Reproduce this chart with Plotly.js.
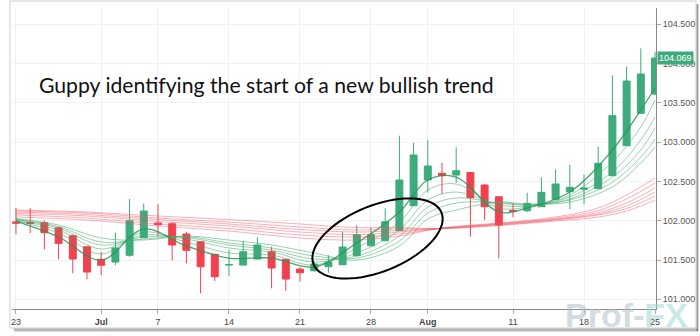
<!DOCTYPE html>
<html><head><meta charset="utf-8">
<script src="https://cdn.plot.ly/plotly-3.0.1.min.js"></script>
<style>html,body{margin:0;padding:0;background:#fff}#chart{width:700px;height:336px}</style>
</head><body><div id="chart"></div>
<script>
// ---- data ----
const dates = ['2014-06-23','2014-06-24','2014-06-25','2014-06-26','2014-06-27','2014-06-30',
 '2014-07-01','2014-07-02','2014-07-03','2014-07-04','2014-07-07','2014-07-08','2014-07-09','2014-07-10','2014-07-11',
 '2014-07-14','2014-07-15','2014-07-16','2014-07-17','2014-07-18','2014-07-21','2014-07-22','2014-07-23','2014-07-24','2014-07-25',
 '2014-07-28','2014-07-29','2014-07-30','2014-07-31','2014-08-01','2014-08-04','2014-08-05','2014-08-06','2014-08-07','2014-08-08',
 '2014-08-11','2014-08-12','2014-08-13','2014-08-14','2014-08-15','2014-08-18','2014-08-19','2014-08-20','2014-08-21','2014-08-22','2014-08-25'];
const open  = [101.985,101.978,101.975,101.911,101.809,101.669,101.509,101.475,101.560,101.784,101.971,101.962,101.831,101.733,101.573,
 101.436,101.436,101.513,101.606,101.509,101.385,101.364,101.415,101.440,101.555,101.682,101.746,101.873,102.191,102.518,
 102.603,102.581,102.613,102.454,102.305,102.132,102.127,102.178,102.272,102.369,102.400,102.407,102.573,102.954,103.366,103.612];
const high  = [102.162,102.162,102.005,101.924,101.820,101.680,101.602,101.847,102.276,102.221,102.209,101.970,101.860,101.740,101.575,
 101.627,101.746,101.789,101.669,101.510,101.407,101.475,101.560,101.860,101.945,101.911,102.158,103.081,102.992,103.027,
 102.738,102.934,102.620,102.470,102.310,102.221,102.356,102.552,102.654,102.712,102.590,102.941,103.850,103.959,104.193,104.150];
const low   = [101.831,101.844,101.636,101.509,101.331,101.254,101.305,101.433,101.540,101.780,101.805,101.496,101.458,101.076,101.233,
 101.296,101.430,101.510,101.140,101.109,101.224,101.350,101.338,101.440,101.550,101.680,101.740,101.870,102.190,102.356,
 102.336,102.483,101.796,102.009,101.522,102.043,102.110,102.175,102.270,102.149,102.212,102.405,102.570,102.950,103.360,103.600];
const close = [101.968,101.966,101.847,101.712,101.513,101.347,101.433,101.653,102.000,102.123,101.949,101.691,101.623,101.415,101.288,
 101.442,101.606,101.691,101.398,101.258,101.338,101.449,101.475,101.665,101.822,101.822,101.987,102.518,102.836,102.696,
 102.573,102.636,102.293,102.178,101.945,102.120,102.221,102.361,102.467,102.425,102.416,102.730,103.336,103.777,103.866,104.069];

// Guppy short-term EMAs (3,5,8,10,12,15) read at sample dates
const shortDates = ['2014-06-23','2014-06-26','2014-07-01','2014-07-04','2014-07-09','2014-07-14','2014-07-17','2014-07-22','2014-07-25',
 '2014-07-30','2014-08-01','2014-08-05','2014-08-08','2014-08-12','2014-08-15','2014-08-20','2014-08-22','2014-08-25'];
const ema3  = [101.996,101.793,101.500,101.894,101.678,101.525,101.525,101.411,101.716,102.111,102.518,102.556,102.111,102.162,102.365,102.900,103.408,103.688];
const ema5  = [102.003,101.844,101.576,101.856,101.729,101.589,101.564,101.436,101.653,101.983,102.391,102.467,102.162,102.174,102.327,102.747,103.192,103.536];
const ema8  = [102.009,101.882,101.640,101.818,101.767,101.653,101.602,101.475,101.589,101.882,102.263,102.365,102.200,102.187,102.302,102.620,103.027,103.319];
const ema10 = [102.015,101.907,101.691,101.793,101.786,101.691,101.627,101.513,101.551,101.805,102.174,102.289,102.225,102.200,102.276,102.556,102.900,103.179];
const ema12 = [102.022,101.926,101.729,101.767,101.799,101.716,101.653,101.551,101.525,101.742,102.098,102.225,102.232,102.206,102.263,102.492,102.810,103.039];
const ema15 = [102.028,101.945,101.780,101.754,101.805,101.754,101.691,101.589,101.500,101.678,102.022,102.136,102.238,102.212,102.238,102.429,102.734,102.938];

// Guppy long-term EMAs (30,35,40,45,50,60) read at sample dates
const longDates = ['2014-06-23','2014-06-30','2014-07-07','2014-07-14','2014-07-21','2014-07-25','2014-07-30','2014-08-04','2014-08-08',
 '2014-08-14','2014-08-19','2014-08-21','2014-08-25'];
const ema30 = [102.047,102.009,101.933,101.869,101.780,101.754,101.805,101.908,101.971,102.047,102.162,102.327,102.543];
const ema35 = [102.073,102.034,101.958,101.901,101.818,101.793,101.831,101.906,101.964,102.034,102.130,102.276,102.480];
const ema40 = [102.092,102.060,101.990,101.933,101.856,101.824,101.856,101.904,101.958,102.022,102.104,102.225,102.416];
const ema45 = [102.111,102.079,102.015,101.958,101.888,101.856,101.875,101.902,101.952,102.015,102.085,102.187,102.365];
const ema50 = [102.123,102.098,102.034,101.983,101.920,101.882,101.894,101.900,101.945,102.009,102.073,102.155,102.314];
const ema60 = [102.136,102.111,102.060,102.015,101.958,101.913,101.913,101.898,101.939,101.996,102.047,102.123,102.263];

const tickDates  = ['2014-06-23','2014-07-01','2014-07-07','2014-07-14','2014-07-21','2014-07-28','2014-08-01','2014-08-11','2014-08-18','2014-08-25'];
const tickLabels = ['23','<b>Jul</b>','7','14','21','28','<b>Aug</b>','11','18','25'];
const titleText = 'Guppy identifying the start of a new bullish trend';
const lastPrice = 104.069;

// ---- layout constants ----
const W = 700, H = 336, M = {l:12, r:44, t:8, b:27};
const xRange = [-0.28, 45.07], yRange = [100.877, 104.706];
const idx = d => dates.indexOf(d);
const X = dates.map((d,i)=>i);

const GREEN = '#3dab7b', RED = '#f2404f';
const traces = [];
const shortSets = [ema15, ema12, ema10, ema8, ema5, ema3];
shortSets.forEach((arr,k)=>{
  traces.push({type:'scatter', mode:'lines', x: shortDates.map(idx), y: arr,
    line:{color: k===5 ? 'rgba(40,150,85,0.85)' : 'rgba(70,170,110,0.55)', width: k===5?1.3:1, shape:'spline', smoothing:1},
    hoverinfo:'skip', showlegend:false});
});
const longSets = [ema60, ema50, ema45, ema40, ema35, ema30];
longSets.forEach((arr,k)=>{
  traces.push({type:'scatter', mode:'lines', x: longDates.map(idx), y: arr,
    line:{color:'rgba(240,80,95,0.45)', width:1, shape:'spline', smoothing:1},
    hoverinfo:'skip', showlegend:false});
});
traces.push({type:'candlestick', x: X, open, high, low, close,
  increasing:{line:{color:GREEN, width:1}, fillcolor:GREEN},
  decreasing:{line:{color:RED, width:1}, fillcolor:RED},
  whiskerwidth:0, hoverinfo:'skip', showlegend:false});

const plotW = W - M.l - M.r, plotH = H - M.t - M.b;
const pxX = plotW/(xRange[1]-xRange[0]), pxY = plotH/(yRange[1]-yRange[0]);
const paperX = px => (px - M.l)/plotW;
const paperY = py => (H - M.b - py)/plotH;

// ellipse (annotation) in data coords
const ell = {cx: 25.46, cy: 101.774, a: 69, b: 33, rot: 22*Math.PI/180};
let path = '';
for (let k=0;k<=72;k++){
  const t = k/72*2*Math.PI;
  const dx = ell.a*Math.cos(t)*Math.cos(ell.rot) - ell.b*Math.sin(t)*Math.sin(ell.rot);
  const dy = ell.a*Math.cos(t)*Math.sin(ell.rot) + ell.b*Math.sin(t)*Math.cos(ell.rot);
  path += (k===0?'M':'L') + (ell.cx + dx/pxX).toFixed(4) + ',' + (ell.cy + dy/pxY).toFixed(4);
}
path += 'Z';

const layout = {
  width: W, height: H, margin: M, paper_bgcolor:'#fff', plot_bgcolor:'#fff',
  showlegend:false, dragmode:false,
  font:{family:'"Liberation Sans", Arial, sans-serif', size:9, color:'#444'},
  xaxis:{range:xRange, tickvals: tickDates.map(idx), ticktext: tickLabels, ticks:'outside', ticklen:4, tickcolor:'#aaa',
    showgrid:true, gridcolor:'#f1f1f1', showline:true, linecolor:'#888', zeroline:false,
    rangeslider:{visible:false}, tickfont:{size:9, color:'#444'}, fixedrange:true},
  yaxis:{range:yRange, side:'right', tick0:101, dtick:0.5, tickformat:'.3f', ticks:'outside', ticklen:4, tickcolor:'#aaa',
    showgrid:true, gridcolor:'#f1f1f1', showline:true, linecolor:'#888', zeroline:false,
    tickfont:{size:9, color:'#555'}, fixedrange:true},
  shapes:[
    {type:'path', xref:'x', yref:'y', path: path, line:{color:'#000', width:2}, fillcolor:'rgba(0,0,0,0)'},
    // outer frame with a soft drop shadow
    {type:'rect', xref:'paper', yref:'paper', x0:paperX(10), x1:paperX(696), y0:paperY(328), y1:paperY(1),
     line:{color:'#cfcfcf', width:1}, fillcolor:'rgba(0,0,0,0)', layer:'below'},
    {type:'line', xref:'paper', yref:'paper', x0:paperX(697.5), x1:paperX(697.5), y0:paperY(331), y1:paperY(4),
     line:{color:'rgba(0,0,0,0.35)', width:2}},
    {type:'line', xref:'paper', yref:'paper', x0:paperX(14), x1:paperX(698), y0:paperY(330), y1:paperY(330),
     line:{color:'rgba(0,0,0,0.28)', width:3}}
  ],
  annotations:[
    {xref:'paper', yref:'paper', x: paperX(37), y: paperY(85), xanchor:'left', yanchor:'middle', showarrow:false,
     text: titleText, font:{family:'Lato, "Open Sans", sans-serif', size:21.2, color:'#111'}},
    {xref:'paper', yref:'y', x:1, y:lastPrice, xanchor:'left', yanchor:'middle', showarrow:false,
     text: lastPrice.toFixed(3), bgcolor: GREEN, borderpad:1, font:{size:9, color:'#fff'}, xshift:1},
    {xref:'paper', yref:'paper', x: paperX(563), y: paperY(336), xanchor:'left', yanchor:'bottom', showarrow:false,
     text:'Prof-<span style="color:#9ed9d2">FX</span>', opacity:0.55,
     font:{family:'"Liberation Sans", Arial, sans-serif', size:34, color:'#b0c0c4', weight:'bold'}}
  ]
};
Plotly.newPlot('chart', traces, layout, {staticPlot:true, displayModeBar:false});
</script></body></html>
